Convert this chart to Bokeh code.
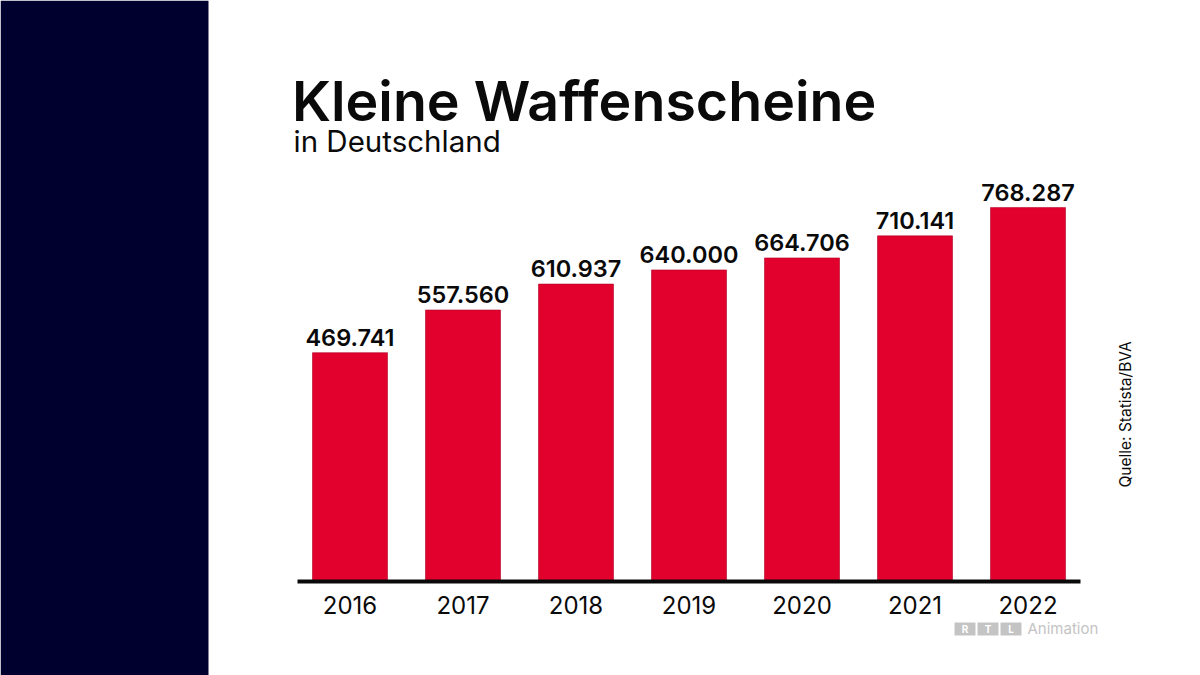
from bokeh.core.properties import value
from bokeh.embed import file_html
from bokeh.resources import INLINE
from bokeh.plotting import figure
from bokeh.models import ColumnDataSource, Range1d, Label, BoxAnnotation, LinearAxis, FixedTicker

years = [2016, 2017, 2018, 2019, 2020, 2021, 2022]
licences = [469741, 557560, 610937, 640000, 664706, 710141, 768287]
value_labels = ["469.741", "557.560", "610.937", "640.000", "664.706", "710.141", "768.287"]

W, H = 1200, 675
FONT = "Inter"
NAVY, RED, INK, GREY = "#00002e", "#e2002d", "#0a0a0a", "#c4c4c4"
PX_X = 113            # pixels per year
PX_Y = 0.000486       # pixels per licence
LEFT, BASE = 349.5, 580.5   # canvas position of the first year and of zero

source = ColumnDataSource(dict(year=years, value=licences, label=value_labels))

p = figure(width=W, height=H, output_backend="svg", toolbar_location=None,
           x_range=Range1d(years[0] - LEFT / PX_X, years[0] + (W - LEFT) / PX_X),
           y_range=Range1d(-(H - BASE) / PX_Y, BASE / PX_Y),
           x_axis_location=None, y_axis_location=None,
           min_border=0, outline_line_color=None,
           background_fill_color="white", border_fill_color="white")
p.styles = {"position": "absolute", "left": "0", "top": "0"}
p.grid.visible = False

xa = LinearAxis(ticker=FixedTicker(ticks=years), fixed_location=0,
                bounds=(years[0] - 52.5 / PX_X, years[-1] + 52.5 / PX_X))
xa.axis_line_color = INK
xa.axis_line_width = 4
xa.major_tick_line_color = None
xa.minor_tick_line_color = None
xa.major_label_standoff = 9
xa.major_label_text_font = "Inter"
xa.major_label_text_font_size = "24px"
xa.major_label_text_color = INK
p.add_layout(xa, "below")

p.add_layout(BoxAnnotation(left=0, right=208, top=0, bottom=H, left_units="canvas",
                           right_units="canvas", top_units="canvas", bottom_units="canvas",
                           fill_color=NAVY, fill_alpha=1, line_color=None, level="underlay"))

p.vbar(x="year", top="value", width=75 / PX_X, bottom=0, source=source,
       fill_color=RED, line_color="#b00025", line_width=0.6)
p.text(x="year", y="value", text="label", source=source, text_align="center",
       text_baseline="bottom", y_offset=-7, text_font=value("Inter SemiBold"), text_font_size="23.5px",
       text_color=INK)

def text(t, x, y, size, color=INK, style="normal", angle=0, align="left", base="alphabetic", font=FONT):
    p.add_layout(Label(x=x, y=y, x_units="canvas", y_units="canvas", text=t,
                       text_font=font, text_font_size=f"{size}px", text_font_style=style,
                       text_color=color, angle=angle, angle_units="deg",
                       text_align=align, text_baseline=base))

text("Kleine Waffenscheine", 291.5, 100, 55.5, font="Inter SemiBold")
text("in Deutschland", 293, 140, 29.5)
text("Quelle: Statista/BVA", 1124.5, 487, 15.5, angle=90)

for letter, x0 in zip("RTL", (954, 977, 1000)):
    p.add_layout(BoxAnnotation(left=x0, right=x0 + 21, top=622, bottom=635,
                               left_units="canvas", right_units="canvas", top_units="canvas",
                               bottom_units="canvas", fill_color=GREY, fill_alpha=1, line_color=None))
    text(letter, x0 + 10.5, 628.5, 10, color="white", align="center", style="bold")
text("Animation", 1027, 628, 15, color=GREY)

open("out.html", "w").write(file_html(p, INLINE))
